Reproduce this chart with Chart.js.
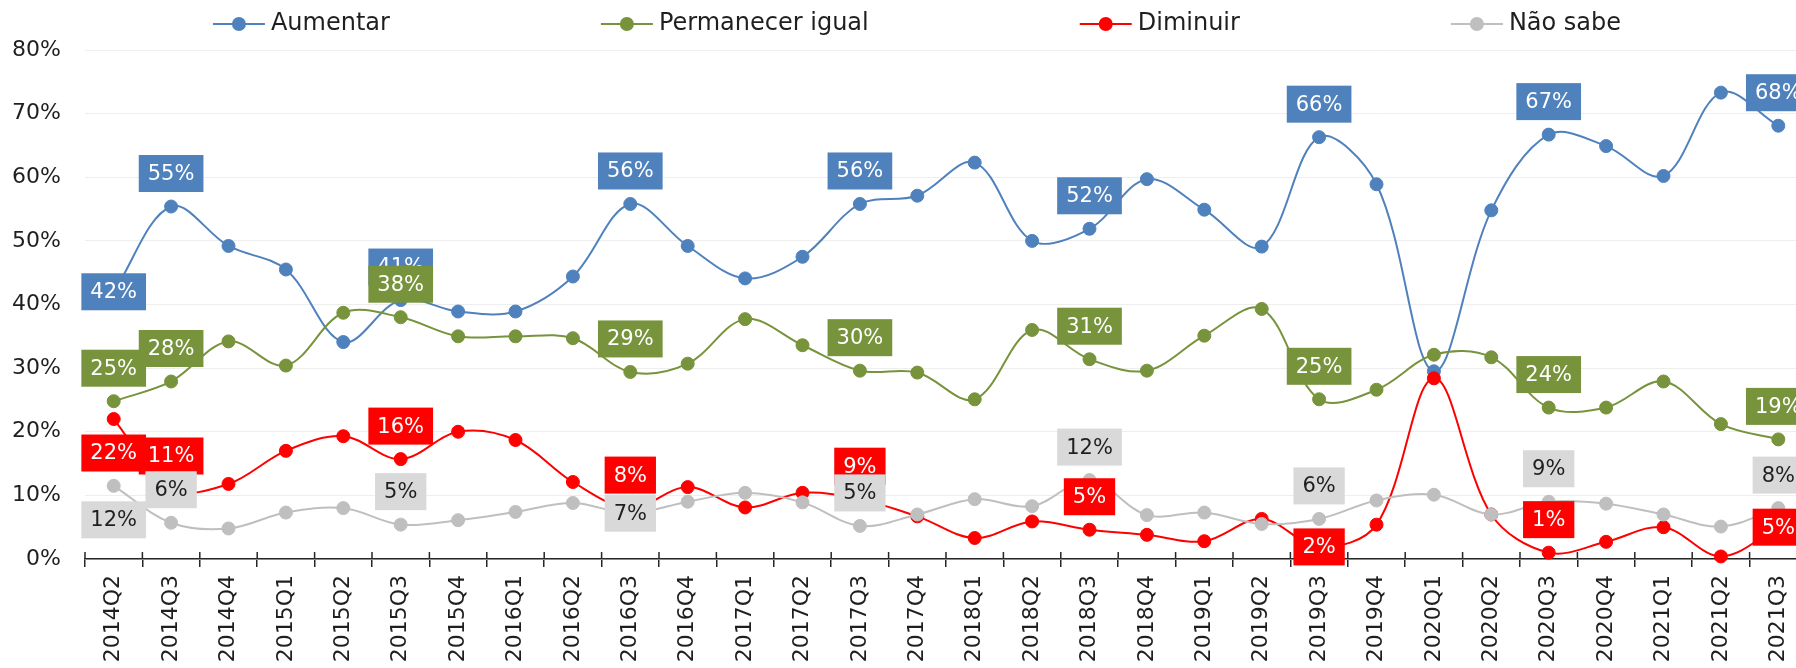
<!DOCTYPE html>
<html lang="pt">
<head>
<meta charset="UTF-8">
<title>Expectativas</title>
<script src="https://cdn.jsdelivr.net/npm/chart.js"></script>
<style>
  html, body { margin: 0; padding: 0; background: #fff; overflow: hidden; }
  #wrap { width: 1796px; height: 668px; overflow: hidden; }
</style>
</head>
<body>
<div id="wrap"><canvas id="grafico" width="1834" height="668"></canvas></div>
<script>
const trimestres = ['2014Q2', '2014Q3', '2014Q4',
  '2015Q1', '2015Q2', '2015Q3', '2015Q4',
  '2016Q1', '2016Q2', '2016Q3', '2016Q4',
  '2017Q1', '2017Q2', '2017Q3', '2017Q4',
  '2018Q1', '2018Q2', '2018Q3', '2018Q4',
  '2019Q1', '2019Q2', '2019Q3', '2019Q4',
  '2020Q1', '2020Q2', '2020Q3', '2020Q4',
  '2021Q1', '2021Q2', '2021Q3'];

const aumentar = [42.0, 55.4, 49.2, 45.5, 34.1, 40.7, 38.9, 38.9, 44.4, 55.8,
  49.2, 44.1, 47.5, 55.8, 57.1, 62.3, 50.0, 51.9, 59.7, 54.9,
  49.1, 66.3, 58.9, 29.5, 54.8, 66.7, 64.9, 60.2, 73.3, 68.1];
const permanecer = [24.8, 27.9, 34.2, 30.4, 38.7, 38.0, 35.0, 35.0, 34.7, 29.4,
  30.7, 37.7, 33.6, 29.6, 29.3, 25.1, 36.0, 31.4, 29.6, 35.1,
  39.3, 25.1, 26.6, 32.1, 31.7, 23.8, 23.8, 27.9, 21.2, 18.8];
const diminuir = [22.0, 11.0, 11.8, 17.0, 19.3, 15.7, 20.0, 18.7, 12.1, 8.0,
  11.3, 8.1, 10.4, 9.4, 6.7, 3.3, 5.9, 4.6, 3.8, 2.8,
  6.3, 1.9, 5.4, 28.4, 7.0, 1.0, 2.7, 5.0, 0.4, 5.0];
const naoSabe = [11.5, 5.7, 4.8, 7.3, 8.0, 5.4, 6.1, 7.4, 8.8, 7.2,
  9.0, 10.4, 8.9, 5.2, 7.0, 9.4, 8.3, 12.4, 6.9, 7.3,
  5.5, 6.3, 9.2, 10.1, 7.0, 9.0, 8.7, 7.0, 5.1, 8.0];

// onde fica cada rótulo em relação ao ponto
const rotAumentar = { 0: 'centro', 1: 'acima', 5: 'acima', 9: 'acima', 13: 'acima', 17: 'acima', 21: 'acima', 25: 'acima', 29: 'acima' };
const rotPermanecer = { 0: 'acima', 1: 'acima', 5: 'acima', 9: 'acima', 13: 'acima', 17: 'acima', 21: 'acima', 25: 'acima', 29: 'acima' };
const rotDiminuir = { 0: 'abaixo', 1: 'acima', 5: 'acima', 9: 'acima', 13: 'acima', 17: 'acima', 21: 'centro', 25: 'acima', 29: 'centro' };
const rotNaoSabe = { 0: 'abaixo', 1: 'acima', 5: 'acima', 9: 'centro', 13: 'acima', 17: 'acima', 21: 'acima', 25: 'acima', 29: 'acima' };

const FONTE = '"DejaVu Sans", sans-serif';
const corTexto = '#1f1f1f';
const corEixo = '#262626';

const series = [
  { nome: 'Aumentar', valores: aumentar, cor: '#4F81BD', fundo: '#4F81BD', letra: '#FFFFFF', rotulos: rotAumentar },
  { nome: 'Permanecer igual', valores: permanecer, cor: '#77933C', fundo: '#77933C', letra: '#FFFFFF', rotulos: rotPermanecer },
  { nome: 'Diminuir', valores: diminuir, cor: '#FF0000', fundo: '#FF0000', letra: '#FFFFFF', rotulos: rotDiminuir },
  { nome: 'Não sabe', valores: naoSabe, cor: '#BFBFBF', fundo: '#D9D9D9', letra: corTexto, rotulos: rotNaoSabe }
];

// rótulos de dados em caixas coloridas
const rotulosPlugin = {
  id: 'rotulos',
  afterDatasetsDraw(chart) {
    const ctx = chart.ctx;
    ctx.save();
    ctx.font = '21px ' + FONTE;
    ctx.textAlign = 'center';
    ctx.textBaseline = 'middle';
    chart.data.datasets.forEach((ds, i) => {
      const meta = chart.getDatasetMeta(i);
      Object.entries(ds.rotulos).forEach(([idx, pos]) => {
        const pt = meta.data[idx];
        const dy = pos === 'acima' ? -33 : pos === 'abaixo' ? 34 : 0;
        const txt = Math.round(ds.data[idx]) + '%';
        const w = ctx.measureText(txt).width + 18;
        const h = 37;
        ctx.fillStyle = ds.fundoRotulo;
        ctx.fillRect(pt.x - w / 2, pt.y + dy - h / 2, w, h);
        ctx.fillStyle = ds.letraRotulo;
        ctx.fillText(txt, pt.x, pt.y + dy + 1);
      });
    });
    ctx.restore();
  }
};

// parte de cima das marcas do eixo x (cruzando o eixo)
const marcasPlugin = {
  id: 'marcas',
  beforeDatasetsDraw(chart) {
    const x = chart.scales.x;
    const ctx = chart.ctx;
    const passo = x.getPixelForValue(1) - x.getPixelForValue(0);
    ctx.save();
    ctx.strokeStyle = corEixo;
    ctx.lineWidth = 1.5;
    ctx.beginPath();
    for (let i = 0; i <= trimestres.length; i++) {
      const px = x.getPixelForValue(0) - passo / 2 + i * passo;
      ctx.moveTo(px, x.top - 7);
      ctx.lineTo(px, x.top);
    }
    ctx.stroke();
    ctx.restore();
  }
};

// legenda no topo: linha com marcador
const legendaPlugin = {
  id: 'legenda',
  afterDraw(chart) {
    const ctx = chart.ctx;
    const espaco = 211;
    ctx.save();
    ctx.font = '24px ' + FONTE;
    const itens = chart.data.datasets.map(ds => ({ ds, w: 58 + ctx.measureText(ds.label).width }));
    const total = itens.reduce((a, it) => a + it.w, 0) + espaco * (itens.length - 1);
    let x = (chart.width - total) / 2;
    const y = 24;
    itens.forEach(({ ds, w }) => {
      ctx.strokeStyle = ds.borderColor;
      ctx.lineWidth = 2;
      ctx.beginPath();
      ctx.moveTo(x, y);
      ctx.lineTo(x + 52, y);
      ctx.stroke();
      ctx.fillStyle = ds.borderColor;
      ctx.beginPath();
      ctx.arc(x + 26, y, 7, 0, Math.PI * 2);
      ctx.fill();
      ctx.fillStyle = corTexto;
      ctx.textAlign = 'left';
      ctx.textBaseline = 'middle';
      ctx.fillText(ds.label, x + 58, y);
      x += w + espaco;
    });
    ctx.restore();
  }
};

const ctx = document.getElementById('grafico').getContext('2d');
const grafico = new Chart(ctx, {
  type: 'line',
  data: {
    labels: trimestres,
    datasets: series.map((s, i) => ({
      label: s.nome,
      data: s.valores,
      borderColor: s.cor,
      backgroundColor: s.cor,
      borderWidth: 2,
      pointRadius: 6.5,
      pointBorderWidth: 1,
      pointBackgroundColor: s.cor,
      pointBorderColor: s.cor,
      tension: 0.35,
      clip: false,
      order: series.length - i,
      rotulos: s.rotulos,
      fundoRotulo: s.fundo,
      letraRotulo: s.letra
    }))
  },
  options: {
    responsive: false,
    animation: false,
    devicePixelRatio: 1,
    layout: { padding: { top: 50, right: 27, left: 0, bottom: 0 } },
    plugins: {
      legend: { display: false },
      tooltip: { enabled: false }
    },
    scales: {
      x: {
        offset: true,
        grid: { offset: true, drawOnChartArea: false, drawTicks: true, tickLength: 8, color: corEixo, lineWidth: 1.5 },
        border: { display: true, color: corEixo, width: 1.5 },
        ticks: { minRotation: 90, maxRotation: 90, autoSkip: false, padding: 8, color: corTexto, font: { family: FONTE, size: 22 } },
        afterFit(scale) { scale.height = 109; }
      },
      y: {
        min: 0,
        max: 80,
        ticks: { stepSize: 10, callback: v => v + '%', padding: 24, color: corTexto, font: { family: FONTE, size: 22 } },
        grid: { color: '#EEEEEE', lineWidth: 1, drawTicks: false },
        border: { display: false },
        afterFit(scale) { scale.width = 85; }
      }
    }
  },
  plugins: [marcasPlugin, rotulosPlugin, legendaPlugin]
});
</script>
</body>
</html>
